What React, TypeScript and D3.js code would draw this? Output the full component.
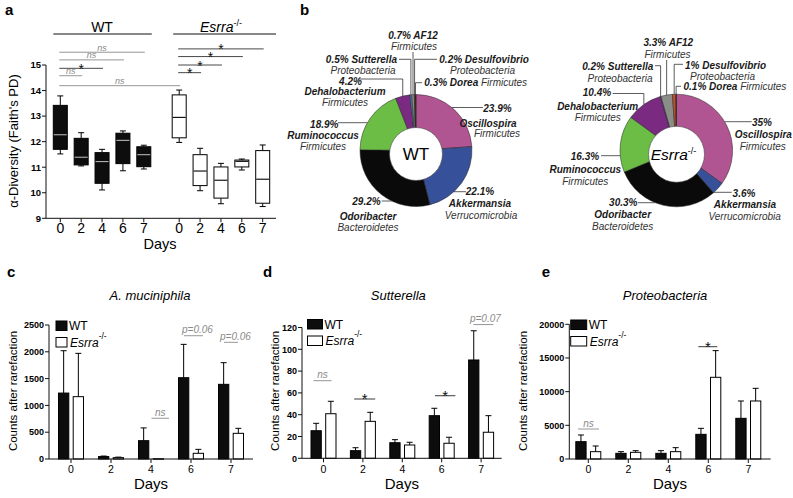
import * as d3 from "d3";

const FONT = "'Liberation Sans', Arial, Helvetica, sans-serif";
const NS_GREY = "#8a8a8a";
const INK = "#111";

// shared
const DAYS = ["0", "2", "4", "6", "7"];
const GENOTYPES = ["WT", "Esrra"];

// a: alpha diversity (Faith's PD), per day [min, q1, median, q3, max]
const WT_PD = [
  [11.52, 11.7, 12.27, 13.42, 13.79],
  [11.05, 11.09, 11.39, 12.13, 12.35],
  [10.11, 10.37, 11.22, 11.57, 11.7],
  [10.86, 11.14, 12.05, 12.33, 12.42],
  [10.93, 11.02, 11.49, 11.8, 11.86],
];
const ESRRA_PD = [
  [11.97, 12.15, 12.95, 13.83, 14.02],
  [10.08, 10.28, 10.85, 11.49, 11.74],
  [9.57, 9.79, 10.49, 11.01, 11.15],
  [10.89, 11.01, 11.23, 11.28, 11.32],
  [9.46, 9.59, 10.53, 11.65, 11.87],
];
const PD_TICKS = [9, 10, 11, 12, 13, 14, 15];
// day-0 vs day-n comparisons: [day, label, bracket level]
const WT_PD_TESTS: [string, string, number][] = [
  ["7", "ns", 15.5],
  ["6", "ns", 15.2],
  ["4", "*", 14.87],
  ["2", "ns", 14.58],
];
const ESRRA_PD_TESTS: [string, string, number][] = [
  ["7", "*", 15.63],
  ["6", "*", 15.33],
  ["4", "*", 15.0],
  ["2", "*", 14.7],
];
const CROSS_PD_TEST: [string, number] = ["ns", 14.19];

// b: genus composition (%)
const GENERA = ["Oscillospira", "Akkermansia", "Odoribacter", "Ruminococcus", "Dehalobacterium", "Sutterella", "AF12", "Desulfovibrio", "Dorea"];
const PHYLA = ["Firmicutes", "Verrucomicrobia", "Bacteroidetes", "Firmicutes", "Firmicutes", "Proteobacteria", "Firmicutes", "Proteobacteria", "Firmicutes"];
const WT_PCT = [23.9, 22.1, 29.2, 18.9, 4.2, 0.5, 0.7, 0.2, 0.3];
const ESRRA_PCT = [35, 3.6, 30.3, 16.3, 10.4, 0.2, 3.3, 1, 0.1];
const GENUS_COLORS = ["#b15592", "#37509a", "#0a0a0a", "#6cbd46", "#7a2a80", "#4a8fb5", "#8c8c88", "#c0502a", "#3a2a20"];

// c-e: counts after rarefaction, mean and SEM per day
const AKK_WT = [1230, 45, 342, 1517, 1393];
const AKK_WT_SEM = [790, 10, 238, 622, 404];
const AKK_ES = [1163, 25, 5, 106, 479];
const AKK_ES_SEM = [808, 10, 0, 74, 93];
const AKK_TICKS = [0, 500, 1000, 1500, 2000, 2500];

const SUT_WT = [25.3, 7.0, 14.3, 39.1, 90.2];
const SUT_WT_SEM = [6.8, 2.7, 2.8, 6.8, 26.8];
const SUT_ES = [40.9, 33.9, 12.2, 13.8, 23.9];
const SUT_ES_SEM = [11.4, 8.3, 2.5, 5.5, 15.2];
const SUT_TICKS = [0, 20, 40, 60, 80, 100, 120];

const PRO_WT = [2574, 842, 842, 3663, 6040];
const PRO_WT_SEM = [990, 247, 396, 891, 2574];
const PRO_ES = [1089, 990, 1089, 12129, 8614];
const PRO_ES_SEM = [842, 248, 594, 3960, 1881];
const PRO_TICKS = [0, 5000, 10000, 15000, 20000];

// ---------------- layout for pie labels (positions only) ----------------
type LabelPos = [number, number, string];
type PieLabel = {
  mode: "stack3" | "stack2" | "inline";
  lines: LabelPos[];
  leader: { kind: "h" | "v"; y: number; end?: number };
};

const WT_LABELS: PieLabel[] = [
  { mode: "stack3", lines: [[497.5, 111.8, "middle"], [488, 126.8, "middle"], [497, 136.8, "middle"]], leader: { kind: "h", y: 107.5, end: 483 } },
  { mode: "stack3", lines: [[480, 195.2, "middle"], [480, 206.8, "middle"], [481, 218.5, "middle"]], leader: { kind: "h", y: 191.7, end: 466 } },
  { mode: "stack3", lines: [[366.5, 204.8, "middle"], [368, 219.5, "middle"], [368, 231.2, "middle"]], leader: { kind: "h", y: 201, end: 381.7 } },
  { mode: "stack3", lines: [[324.3, 127.5, "middle"], [323, 139.2, "middle"], [323, 150.2, "middle"]], leader: { kind: "h", y: 122.7, end: 338 } },
  { mode: "stack3", lines: [[350.5, 84.5, "middle"], [345, 94.5, "middle"], [345, 106.2, "middle"]], leader: { kind: "v", y: 79, end: 358 } },
  { mode: "stack2", lines: [[397, 62.8, "end"], [363, 73.5, "middle"]], leader: { kind: "v", y: 59.3, end: 399 } },
  { mode: "stack2", lines: [[413, 38.5, "middle"], [414, 49.5, "middle"]], leader: { kind: "v", y: 52 } },
  { mode: "stack2", lines: [[439.3, 62.8, "start"], [450, 73.5, "start"]], leader: { kind: "v", y: 59.3, end: 437 } },
  { mode: "inline", lines: [[424.3, 86.2, "start"]], leader: { kind: "v", y: 82.7, end: 422 } },
];

const ESRRA_LABELS: PieLabel[] = [
  { mode: "stack3", lines: [[762, 126.2, "middle"], [763.3, 137.8, "middle"], [762.7, 149.5, "middle"]], leader: { kind: "h", y: 121.7, end: 751.7 } },
  { mode: "stack3", lines: [[744, 196.8, "middle"], [745, 207.8, "middle"], [744.7, 220.2, "middle"]], leader: { kind: "h", y: 192.3, end: 731.7 } },
  { mode: "stack3", lines: [[623.3, 206.2, "middle"], [622.7, 217.8, "middle"], [622.7, 230.2, "middle"]], leader: { kind: "h", y: 202.7, end: 638 } },
  { mode: "stack3", lines: [[585, 160.2, "middle"], [585.3, 172.8, "middle"], [585.3, 184.5, "middle"]], leader: { kind: "h", y: 155.7, end: 601 } },
  { mode: "stack3", lines: [[597, 95.8, "middle"], [597.7, 109.5, "middle"], [597.7, 120.8, "middle"]], leader: { kind: "v", y: 93.5, end: 612.7 } },
  { mode: "stack2", lines: [[653.3, 69.5, "end"], [620, 82.2, "middle"]], leader: { kind: "v", y: 65.7, end: 655 } },
  { mode: "stack2", lines: [[668.3, 46.2, "middle"], [667.5, 57.5, "middle"]], leader: { kind: "v", y: 60 } },
  { mode: "stack2", lines: [[685, 68.5, "start"], [690, 79.5, "start"]], leader: { kind: "v", y: 64.3, end: 683 } },
  { mode: "inline", lines: [[683.5, 89.8, "start"]], leader: { kind: "v", y: 86.3, end: 681 } },
];

const LABEL_SIZE = 10;

// ---------------- a ----------------
function DiversityPanel() {
  const y = d3.scaleLinear().domain([9, 15]).range([218.3, 65]);
  const group = d3.scaleBand().domain(GENOTYPES).range([60.3, 298.1]);
  const day = d3.scalePoint().domain(DAYS).range([0, 83.5]);
  const x = (g: string, d: string) => (group(g) ?? 0) + (day(d) ?? 0);
  const boxW = 14;
  const capW = 6;
  const axisX = 46;
  const axisEnd = 276;

  const bracket = (g: string, d: string, label: string, level: number, key: string, x1?: number) => {
    const xa = x(g, "0") - 1;
    const xb = x1 ?? x(g, d) + 1;
    const yy = y(level);
    const isNs = label === "ns";
    return (
      <g key={key}>
        <line x1={xa} x2={xb} y1={yy} y2={yy} stroke={isNs ? NS_GREY : "#333"} strokeWidth={0.9} />
        <text
          x={(xa + xb) / 2}
          y={isNs ? yy - 1.5 : yy + 5.5}
          textAnchor="middle"
          fontSize={isNs ? 9 : 14}
          fontStyle={isNs ? "italic" : "normal"}
          fill={isNs ? NS_GREY : "#111"}
        >
          {label}
        </text>
      </g>
    );
  };

  return (
    <g fontFamily={FONT}>
      <text x={5} y={15} fontSize={15} fontWeight="bold">a</text>
      {/* group headers */}
      <line x1={x("WT", "0") - 7} x2={x("WT", "7") + 8} y1={34} y2={34} stroke={INK} strokeWidth={1} />
      <text x={(x("WT", "0") + x("WT", "7")) / 2} y={31.5} textAnchor="middle" fontSize={14}>WT</text>
      <line x1={x("Esrra", "0") - 6} x2={axisEnd} y1={34} y2={34} stroke={INK} strokeWidth={1} />
      <text x={221} y={31.5} textAnchor="middle" fontSize={14}>
        <tspan fontStyle="italic">Esrra</tspan>
        <tspan fontSize={9} dy={-6}>-/-</tspan>
      </text>

      {/* axes */}
      <line x1={axisX} x2={axisX} y1={y(15)} y2={y(9)} stroke={INK} />
      <line x1={axisX} x2={axisEnd} y1={y(9)} y2={y(9)} stroke={INK} />
      {PD_TICKS.map((t) => (
        <g key={t}>
          <line x1={axisX - 4} x2={axisX} y1={y(t)} y2={y(t)} stroke={INK} />
          <text x={axisX - 5} y={y(t) + 3.3} textAnchor="end" fontSize={9.5} fontWeight="bold">{t}</text>
        </g>
      ))}
      {GENOTYPES.map((g) =>
        DAYS.map((d) => (
          <g key={g + d}>
            <line x1={x(g, d)} x2={x(g, d)} y1={y(9)} y2={y(9) + 4} stroke={INK} />
            <text x={x(g, d)} y={233} textAnchor="middle" fontSize={14}>{d}</text>
          </g>
        ))
      )}
      <text x={160} y={249} textAnchor="middle" fontSize={14.5}>Days</text>
      <text transform="translate(18,141) rotate(-90)" textAnchor="middle" fontSize={13}>
        α-Diversity (Faith's PD)
      </text>

      {/* boxes */}
      {GENOTYPES.map((g) => {
        const rows = g === "WT" ? WT_PD : ESRRA_PD;
        const fill = g === "WT" ? "#0d0d0d" : "#fff";
        const med = g === "WT" ? "#b5b5b5" : "#000";
        return rows.map(([mn, q1, md, q3, mx], i) => {
          const cx = x(g, DAYS[i]);
          return (
            <g key={g + i} stroke="#000" strokeWidth={1}>
              <line x1={cx} x2={cx} y1={y(mx)} y2={y(q3)} />
              <line x1={cx} x2={cx} y1={y(q1)} y2={y(mn)} />
              <line x1={cx - capW / 2} x2={cx + capW / 2} y1={y(mx)} y2={y(mx)} />
              <line x1={cx - capW / 2} x2={cx + capW / 2} y1={y(mn)} y2={y(mn)} />
              <rect x={cx - boxW / 2} y={y(q3)} width={boxW} height={y(q1) - y(q3)} fill={fill} />
              <line x1={cx - boxW / 2 + 0.5} x2={cx + boxW / 2 - 0.5} y1={y(md)} y2={y(md)} stroke={med} strokeWidth={1.1} />
            </g>
          );
        });
      })}

      {/* comparisons */}
      {WT_PD_TESTS.map(([d, l, lv]) => bracket("WT", d, l, lv, "w" + d))}
      {ESRRA_PD_TESTS.map(([d, l, lv]) => bracket("Esrra", d, l, lv, "e" + d))}
      {bracket("WT", "0", CROSS_PD_TEST[0], CROSS_PD_TEST[1], "cross", x("Esrra", "0") + 1)}
    </g>
  );
}

// ---------------- b ----------------
type PieProps = {
  cx: number;
  cy: number;
  r: number;
  hole: [number, number, number];
  pct: number[];
  labels: PieLabel[];
  center: "WT" | "Esrra";
};

function GenusPie({ cx, cy, r, hole, pct, labels, center }: PieProps) {
  const arcs = d3.pie<number>().sort(null).value((v) => v)(pct);
  const arc = d3.arc<d3.PieArcDatum<number>>().innerRadius(0).outerRadius(r);

  return (
    <g fontFamily={FONT}>
      <g transform={`translate(${cx},${cy})`}>
        {arcs.map((a, i) => (
          <path key={i} d={arc(a) ?? ""} fill={GENUS_COLORS[i]} stroke="#222" strokeWidth={0.5} />
        ))}
      </g>
      <circle cx={hole[0]} cy={hole[1]} r={hole[2]} fill="#fff" stroke="#444" strokeWidth={0.6} />
      {center === "WT" ? (
        <text x={hole[0]} y={hole[1] + 6} textAnchor="middle" fontSize={17}>WT</text>
      ) : (
        <text x={hole[0] - 3} y={hole[1] + 5.5} textAnchor="middle" fontSize={15.5}>
          <tspan fontStyle="italic">Esrra</tspan>
          <tspan fontSize={9} dy={-6}>-/-</tspan>
        </text>
      )}

      {labels.map((lab, i) => {
        const a = arcs[i];
        const mid = (a.startAngle + a.endAngle) / 2;
        let path = "";
        if (lab.leader.kind === "h") {
          const side = (lab.leader.end ?? cx) > cx ? 1 : -1;
          const dy = lab.leader.y - cy;
          const sx = cx + side * Math.sqrt(Math.max(0, r * r - dy * dy));
          path = `M${sx},${lab.leader.y}H${lab.leader.end}`;
        } else {
          const px = cx + r * Math.sin(mid);
          const py = cy - r * Math.cos(mid);
          path = `M${px},${py}V${lab.leader.y}` + (lab.leader.end != null ? `H${lab.leader.end}` : "");
        }
        const p = `${pct[i]}%`;
        const L = lab.lines;
        return (
          <g key={i} fontStyle="italic" fill="#1a1a1a">
            <path d={path} fill="none" stroke="#333" strokeWidth={0.8} />
            {lab.mode === "stack3" && (
              <>
                <text x={L[0][0]} y={L[0][1]} textAnchor={L[0][2]} fontSize={LABEL_SIZE} fontWeight="bold">{p}</text>
                <text x={L[1][0]} y={L[1][1]} textAnchor={L[1][2]} fontSize={LABEL_SIZE} fontWeight="bold">{GENERA[i]}</text>
                <text x={L[2][0]} y={L[2][1]} textAnchor={L[2][2]} fontSize={LABEL_SIZE} fill="#333">{PHYLA[i]}</text>
              </>
            )}
            {lab.mode === "stack2" && (
              <>
                <text x={L[0][0]} y={L[0][1]} textAnchor={L[0][2]} fontSize={LABEL_SIZE} fontWeight="bold">{`${p} ${GENERA[i]}`}</text>
                <text x={L[1][0]} y={L[1][1]} textAnchor={L[1][2]} fontSize={LABEL_SIZE} fill="#333">{PHYLA[i]}</text>
              </>
            )}
            {lab.mode === "inline" && (
              <text x={L[0][0]} y={L[0][1]} textAnchor={L[0][2]} fontSize={LABEL_SIZE}>
                <tspan fontWeight="bold">{`${p} ${GENERA[i]}`}</tspan>
                <tspan fill="#333">{` ${PHYLA[i]}`}</tspan>
              </text>
            )}
          </g>
        );
      })}
    </g>
  );
}

// ---------------- c-e ----------------
type Note = { day: string; label: string; level: number; dx: [number, number]; tx?: number };

type BarProps = {
  letter: string;
  letterX: number;
  title: string;
  titleX: number;
  axisX: number;
  xEnd: number;
  yRange: [number, number];
  max: number;
  ticks: number[];
  band: [number, number];
  wt: number[];
  wtSem: number[];
  es: number[];
  esSem: number[];
  notes: Note[];
  ylabelX: number;
  legend: [number, number, number];
};

function CountsPanel(p: BarProps) {
  const y = d3.scaleLinear().domain([0, p.max]).range(p.yRange);
  const x = d3.scaleBand().domain(DAYS).range(p.band);
  const inner = d3.scaleBand().domain(GENOTYPES).range([-12.5, 12.5]).paddingInner(0.3);
  const bw = inner.bandwidth();
  const cx = (d: string) => (x(d) ?? 0) + x.bandwidth() / 2;
  const base = p.yRange[0];
  const midX = (p.axisX + p.xEnd) / 2;
  const [lx, ly, lw] = p.legend;

  const series = [
    { g: "WT", v: p.wt, e: p.wtSem, fill: "#0d0d0d" },
    { g: "Esrra", v: p.es, e: p.esSem, fill: "#fff" },
  ];

  return (
    <g fontFamily={FONT}>
      <text x={p.letterX} y={277} fontSize={15} fontWeight="bold">{p.letter}</text>
      <text x={p.titleX} y={300} textAnchor="middle" fontSize={13} fontStyle="italic">{p.title}</text>

      {series.map((s) =>
        DAYS.map((d, i) => {
          const bx = cx(d) + (inner(s.g) ?? 0);
          const top = y(s.v[i]);
          const et = y(s.v[i] + s.e[i]);
          const mx = bx + bw / 2;
          return (
            <g key={s.g + d} stroke="#000" strokeWidth={1}>
              {s.e[i] > 0 && <line x1={mx} x2={mx} y1={top} y2={et} />}
              {s.e[i] > 0 && <line x1={mx - 3} x2={mx + 3} y1={et} y2={et} />}
              <rect x={bx} y={top} width={bw} height={Math.max(0.5, base - top)} fill={s.fill} />
            </g>
          );
        })
      )}

      {/* axes */}
      <line x1={p.axisX} x2={p.axisX} y1={p.yRange[1]} y2={base} stroke={INK} />
      <line x1={p.axisX} x2={p.xEnd} y1={base} y2={base} stroke={INK} />
      {p.ticks.map((t) => (
        <g key={t}>
          <line x1={p.axisX - 4} x2={p.axisX} y1={y(t)} y2={y(t)} stroke={INK} />
          <text x={p.axisX - 5} y={y(t) + 3.2} textAnchor="end" fontSize={9} fontWeight="bold">{t}</text>
        </g>
      ))}
      {DAYS.map((d) => (
        <g key={d}>
          <line x1={cx(d)} x2={cx(d)} y1={base} y2={base + 4} stroke={INK} />
          <text x={cx(d)} y={base + 14.3} textAnchor="middle" fontSize={10.5}>{d}</text>
        </g>
      ))}
      <text x={midX + 0} y={489} textAnchor="middle" fontSize={15}>Days</text>
      <text transform={`translate(${p.ylabelX},391) rotate(-90)`} textAnchor="middle" fontSize={11.5}>
        Counts after rarefaction
      </text>

      {/* legend */}
      <rect x={lx} y={ly} width={lw} height={9.5} fill="#0d0d0d" stroke="#000" />
      <text x={lx + lw + 2} y={ly + 9.3} fontSize={12}>WT</text>
      <rect x={lx} y={ly + 16.5} width={lw} height={9.5} fill="#fff" stroke="#000" />
      <text x={lx + lw + 3} y={ly + 25.8} fontSize={12}>
        <tspan fontStyle="italic">Esrra</tspan>
        <tspan fontSize={8.5} dy={-8}>-/-</tspan>
      </text>

      {/* comparisons */}
      {p.notes.map((n) => {
        const c = cx(n.day);
        const yy = y(n.level);
        const star = n.label === "*";
        const x1 = c + n.dx[0];
        const x2 = c + n.dx[1];
        return (
          <g key={n.day}>
            <line x1={x1} x2={x2} y1={yy} y2={yy} stroke={star ? "#222" : NS_GREY} strokeWidth={0.9} />
            <text
              x={n.tx != null ? c + n.tx : (x1 + x2) / 2}
              y={star ? yy + 5 : yy - 2.5}
              textAnchor="middle"
              fontSize={star ? 15 : 10}
              fontStyle={star ? "normal" : "italic"}
              fill={star ? "#111" : NS_GREY}
            >
              {n.label}
            </text>
          </g>
        );
      })}
    </g>
  );
}

const AKK_NOTES: Note[] = [
  { day: "4", label: "ns", level: 760, dx: [0.5, 18] },
  { day: "6", label: "p=0.06", level: 2300, dx: [-7, 12], tx: 6.5 },
  { day: "7", label: "p=0.06", level: 2177, dx: [-7, 7], tx: 4.5 },
];
const SUT_NOTES: Note[] = [
  { day: "0", label: "ns", level: 71.2, dx: [-10, 8] },
  { day: "2", label: "*", level: 54.4, dx: [-8.7, 12.3] },
  { day: "6", label: "*", level: 57.4, dx: [-6.7, 13.7] },
  { day: "7", label: "p=0.07", level: 122.7, dx: [-7.7, 12.3], tx: 4.3 },
];
const PRO_NOTES: Note[] = [
  { day: "0", label: "ns", level: 4454, dx: [-10.3, 10.7] },
  { day: "6", label: "*", level: 16674, dx: [-10, 9] },
];

export default function App() {
  return (
    <svg width={793} height={498} style={{ position: "absolute", left: 0, top: 0, background: "#fff" }}>
      <rect width={793} height={498} fill="#fff" />
      <DiversityPanel />
      <text x={300} y={15} fontFamily={FONT} fontSize={15} fontWeight="bold">b</text>
      <GenusPie cx={416} cy={150.5} r={56} hole={[416, 154, 26.5]} pct={WT_PCT} labels={WT_LABELS} center="WT" />
      <GenusPie cx={676.3} cy={150.5} r={56.3} hole={[676.5, 154.3, 28]} pct={ESRRA_PCT} labels={ESRRA_LABELS} center="Esrra" />
      <CountsPanel
        letter="c" letterX={7} title="A. muciniphila" titleX={150}
        axisX={49} xEnd={253} yRange={[459, 325]} max={2500} ticks={AKK_TICKS} band={[51, 251]}
        wt={AKK_WT} wtSem={AKK_WT_SEM} es={AKK_ES} esSem={AKK_ES_SEM} notes={AKK_NOTES}
        ylabelX={16.7} legend={[56, 321, 11]}
      />
      <CountsPanel
        letter="d" letterX={263} title="Sutterella" titleX={398.3}
        axisX={302} xEnd={501.7} yRange={[458.3, 327.5]} max={120} ticks={SUT_TICKS} band={[303.8, 500.8]}
        wt={SUT_WT} wtSem={SUT_WT_SEM} es={SUT_ES} esSem={SUT_ES_SEM} notes={SUT_NOTES}
        ylabelX={279} legend={[307.5, 319.5, 15]}
      />
      <CountsPanel
        letter="e" letterX={541.7} title="Proteobacteria" titleX={665}
        axisX={569.3} xEnd={770.7} yRange={[459, 324.3]} max={20000} ticks={PRO_TICKS} band={[568.3, 768.3]}
        wt={PRO_WT} wtSem={PRO_WT_SEM} es={PRO_ES} esSem={PRO_ES_SEM} notes={PRO_NOTES}
        ylabelX={527.3} legend={[570.7, 320, 16]}
      />
    </svg>
  );
}
